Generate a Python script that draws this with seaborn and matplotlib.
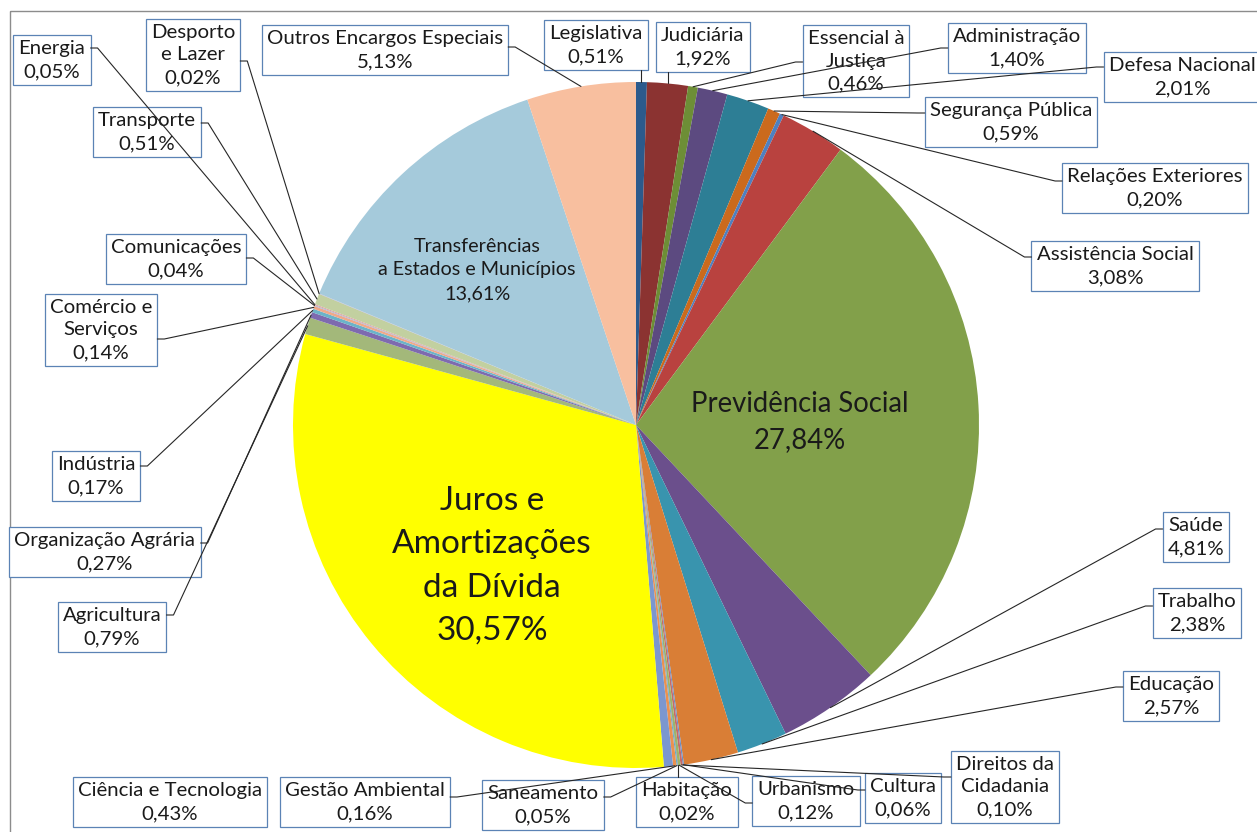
import numpy as np
import matplotlib
matplotlib.use("Agg")
import matplotlib.pyplot as plt
import seaborn as sns
from matplotlib.patches import Rectangle

# fatias no sentido horario a partir do topo
rotulos = [
    "Legislativa", "Judiciária", "Essencial à\nJustiça", "Administração",
    "Defesa Nacional", "Segurança Pública", "Relações Exteriores",
    "Assistência Social", "Previdência Social", "Saúde", "Trabalho",
    "Educação", "Cultura", "Direitos da\nCidadania", "Urbanismo",
    "Habitação", "Saneamento", "Gestão Ambiental", "Ciência e Tecnologia",
    "Juros e\nAmortizações\nda Dívida", "Agricultura", "Organização Agrária",
    "Indústria", "Comércio e\nServiços", "Comunicações", "Energia",
    "Transporte", "Desporto\ne Lazer",
    "Transferências\na Estados e Municípios", "Outros Encargos Especiais",
]
valores = [
    0.51, 1.92, 0.46, 1.40, 2.01, 0.59, 0.20, 3.08, 27.84, 4.81, 2.38,
    2.57, 0.06, 0.10, 0.12, 0.02, 0.05, 0.16, 0.43, 30.57, 0.79, 0.27,
    0.17, 0.14, 0.04, 0.05, 0.51, 0.02, 13.61, 5.13,
]
cores = [
    "#2c5a8c", "#8b3331", "#6d8e36", "#5c4a80", "#2d7e95", "#cb6a1d",
    "#4f80c0", "#b9423f", "#82a04a", "#6b4f8c", "#3994ae", "#d97e36",
    "#6a8fc8", "#c66a68", "#9cb56a", "#8670a8", "#5fb0c8", "#eb9150",
    "#7b97cf", "#ffff00", "#a3b87a", "#7e6aaf", "#6bb4c9", "#f0a98a",
    "#a4badd", "#dfa3a2", "#c2d0a0", "#b9aed0", "#a5cadb", "#f8bf9f",
]

# posicao dos rotulos (pixels da imagem) e lado da linha de chamada
rot_x = [596, 703, 856, 1017, 1182, 1011, 1155, 1115, 800, 1196, 1197,
         1171, 903, 1005, 806, 687, 543, 365, 170, 492, 112, 105, 96, 101,
         176, 52, 147, 193, 477, 385]
rot_y = [45, 47, 61, 48, 77, 122, 188, 266, 422, 537, 613, 696, 798, 787,
         801, 802, 805, 802, 802, 566, 627, 552, 476, 330, 259, 60, 132, 55,
         270, 50]
lado = ["v", "v", "l", "l", "l", "l", "l", "l", "in", "l", "l", "l", "l",
        "l", "l", "v", "r", "r", "-", "in", "r", "r", "r", "r", "r", "r",
        "r", "r", "in", "r"]
liga_y = [0, 0, 62, 48, 67, 113, 181, 257, 0, 529, 606, 687, 790, 777,
          803, 0, 797, 797, 0, 0, 615, 543, 466, 339, 258, 48, 123, 61, 0,
          47]
fonte_in = {8: (19.8, 1.45), 19: (24, 1.55), 28: (14.2, 1.5)}


def main():
    sns.set_theme(style="white")
    plt.rcParams["font.family"] = ["Lato", "DejaVu Sans"]

    fig = plt.figure(figsize=(12.57, 8.32), dpi=100)
    ax = fig.add_axes([0, 0, 1, 1])
    cx, cy, r = 636, 425, 343

    # eixo y invertido: pixels da imagem
    ax.pie(valores, colors=cores, startangle=-90, counterclock=True,
           center=(cx, cy), radius=r, frame=True,
           wedgeprops=dict(linewidth=0))
    ax.set_xlim(0, 1257)
    ax.set_ylim(832, 0)
    ax.set_aspect("auto")
    ax.axis("off")

    ax.add_patch(Rectangle((10, 11), 1260, 830, fill=False, ec="#8c8c8c",
                           lw=1, zorder=1))

    v = np.array(valores)
    meio = (np.cumsum(v) - v / 2) / v.sum() * 2 * np.pi
    anc_x = cx + r * np.sin(meio)
    anc_y = cy - r * np.cos(meio)

    textos = []
    for i, nome in enumerate(rotulos):
        txt = nome + "\n" + f"{valores[i]:.2f}".replace(".", ",") + "%"
        if lado[i] == "in":
            fs, ls = fonte_in[i]
            t = ax.text(rot_x[i], rot_y[i], txt, ha="center", va="center",
                        multialignment="center", fontsize=fs, linespacing=ls,
                        color="#1a1a1a", zorder=4)
        else:
            t = ax.text(rot_x[i], rot_y[i], txt, ha="center", va="center",
                        multialignment="center", fontsize=14.7,
                        linespacing=1.42, color="#1a1a1a", zorder=4,
                        bbox=dict(boxstyle="square,pad=0.25", fc="white",
                                  ec="#5b83b5", lw=0.9))
        textos.append(t)

    fig.canvas.draw()
    renderer = fig.canvas.get_renderer()
    inv = ax.transData.inverted()
    for i, t in enumerate(textos):
        if lado[i] in ("in", "-"):
            continue
        bb = t.get_bbox_patch().get_window_extent(renderer)
        (x0, y0), (x1, y1) = inv.transform([[bb.x0, bb.y0], [bb.x1, bb.y1]])
        esq, dir_ = min(x0, x1), max(x0, x1)
        topo, base = min(y0, y1), max(y0, y1)
        a, b = anc_x[i], anc_y[i]
        if lado[i] == "l":
            xs, ys = [a, esq - 7, esq], [b, liga_y[i], liga_y[i]]
        elif lado[i] == "r":
            xs, ys = [a, dir_ + 7, dir_], [b, liga_y[i], liga_y[i]]
        else:
            fim = base if b > base else topo
            xs, ys = [a, a], [b, fim]
        ax.plot(xs, ys, color="#262626", lw=0.8, zorder=5)

    fig.savefig("out.png", dpi=100)


if __name__ == "__main__":
    main()
